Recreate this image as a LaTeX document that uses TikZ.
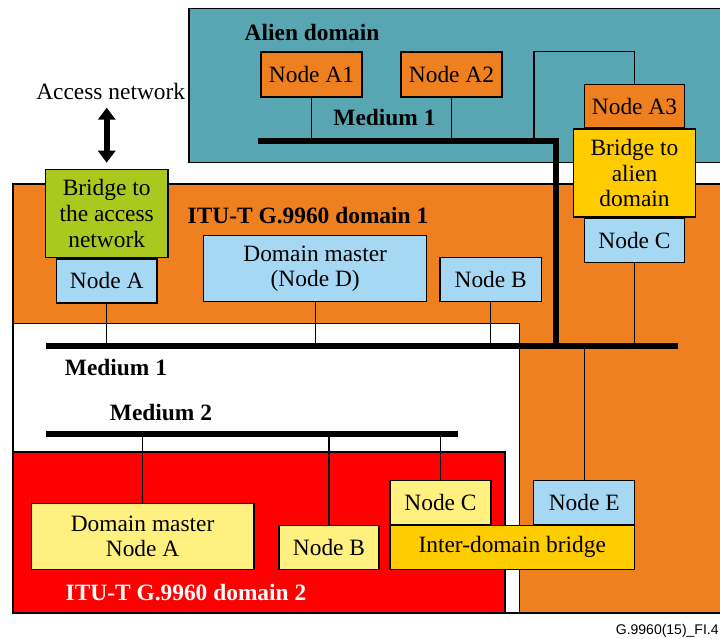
\documentclass[tikz,border=0pt]{standalone}
\usepackage{fontspec}
\setmainfont{Liberation Serif}
\newfontfamily\figsans{Liberation Sans}
\usepackage{tikz}
\usetikzlibrary{
  arrows.meta,
  positioning
}
\definecolor{alienteal}{RGB}{88,166,178}
\definecolor{domorange}{RGB}{238,128,32}
\definecolor{nodeblue}{RGB}{166,216,244}
\definecolor{bridgegold}{RGB}{255,204,0}
\definecolor{nodeyellow}{RGB}{255,240,128}
\definecolor{bridgegreen}{RGB}{170,200,30}
\definecolor{domred}{RGB}{255,0,0}

\begin{document}
\begin{tikzpicture}[x=0.5pt, y=-0.5pt,
  region/.style={draw=black, line width=0.6pt},
  nbox/.style={draw=black, line width=0.6pt, inner sep=0pt, align=center,
               font=\fontsize{11.7}{12.8}\selectfont,
               minimum width=50.3pt, minimum height=22pt},
  lbl/.style={font=\fontsize{11.7}{12.8}\selectfont\bfseries, inner sep=0pt},
  bus/.style={line width=3.2pt, line join=miter},
  tap/.style={line width=0.6pt},
  dbl/.style={{Triangle[width=8.5pt,length=6pt]}-{Triangle[width=8.5pt,length=6pt]},
              line width=3pt}
]
\useasboundingbox (0,0) rectangle (720,639);

\filldraw[region, fill=alienteal] (189,8.5) rectangle (722,162.5);
\filldraw[region, fill=domorange] (13,184) rectangle (722,613);
\filldraw[region, fill=white] (13,323.5) rectangle (519.5,613);
\filldraw[region, fill=domred] (13,452) rectangle (505,613);

\coordinate (abusL) at (258,141);
\coordinate (abend) at (556,141);
\coordinate (aloop) at (534,141);
\coordinate (d1busL) at (46,346);
\coordinate (d1busR) at (678,346);
\coordinate (m2busL) at (46,434);
\coordinate (m2busR) at (458,434);

\node[lbl] (alienlbl) at (312,32) {Alien domain};
\node[lbl] (am1lbl) at (384.5,118) {Medium 1};
\node[inner sep=0pt, font=\fontsize{11.7}{12.8}\selectfont] (accnet) at (110.7,91) {Access network};
\node[lbl] (d1lbl) at (308,215.5) {ITU-T G.9960 domain 1};
\node[lbl] (m1lbl) at (116,367.7) {Medium 1};
\node[lbl] (m2lbl) at (161,413) {Medium 2};
\node[lbl, text=white] (d2lbl) at (186,592.3) {ITU-T G.9960 domain 2};
\node[font=\figsans\fontsize{7}{8}\selectfont, inner sep=0pt, anchor=east] (figid)
  at (719,631) {G.9960(15)\_FI.4};

\node[nbox, fill=domorange, minimum width=50.5pt, minimum height=22.5pt] (nA1)
  at (311.5,74.5) {Node A1};
\node[nbox, fill=domorange, minimum width=50.5pt, minimum height=22.5pt] (nA2)
  at (451.5,74.5) {Node A2};
\node[nbox, fill=bridgegold, minimum width=61pt, minimum height=44pt] (brAl)
  at (634.5,173) {Bridge to\\ alien\\ domain};
\node[nbox, fill=domorange, minimum height=21.5pt, above=0pt of brAl] (nA3) {Node A3};
\node[nbox, fill=nodeblue, below=0pt of brAl] (nCd1) {Node C};

\node[nbox, fill=bridgegreen, minimum width=61.3pt, minimum height=44.2pt] (brAc)
  at (106.7,213.5) {Bridge to\\ the access\\ network};
\node[nbox, fill=nodeblue, below=0pt of brAc] (nAd1) {Node A};
\node[nbox, fill=nodeblue, minimum width=111.6pt, minimum height=33pt] (nDd1)
  at (315.2,268.7) {Domain master\\ (Node D)};
\node[nbox, fill=nodeblue, minimum width=50.7pt] (nBd1) at (490.7,279.7) {Node B};

\node[nbox, fill=nodeyellow, minimum width=111.4pt, minimum height=33pt] (mAd2)
  at (142.6,536.3) {Domain master\\ Node A};
\node[nbox, fill=nodeyellow, minimum width=50pt] (nBd2) at (329,547.3) {Node B};
\node[nbox, fill=bridgegold, minimum width=122.25pt] (idb)
  at (512.25,547.3) {Inter-domain bridge};
\node[nbox, fill=nodeyellow, minimum width=50.5pt,
      above right=0pt and 0pt of idb.north west] (nCd2) {Node C};
\node[nbox, fill=nodeblue, above left=0pt and 0pt of idb.north east] (nE) {Node E};

\draw[bus] (abusL) -- (abend) -- (abend |- d1busL);
\draw[bus] (d1busL) -- (d1busR);
\draw[bus] (m2busL) -- (m2busR);

\draw[tap] (nA1) -- (nA1 |- abusL);
\draw[tap] (nA2) -- (nA2 |- abusL);
\draw[tap] (aloop) |- (nA3 |- nA1.north) -- (nA3);
\draw[tap] (nAd1) -- (nAd1 |- d1busL);
\draw[tap] (nDd1) -- (nDd1 |- d1busL);
\draw[tap] (nBd1) -- (nBd1 |- d1busL);
\draw[tap] (nCd1) -- (nCd1 |- d1busL);
\draw[tap] (nE) -- (nE |- d1busL);
\draw[tap] (mAd2) -- (mAd2 |- m2busL);
\draw[tap] (nBd2) -- (nBd2 |- m2busL);
\draw[tap] (nCd2) -- (nCd2 |- m2busL);

\draw[dbl, shorten <=4pt, shorten >=3pt] (brAc |- accnet.south) -- (brAc);
\end{tikzpicture}
\end{document}
